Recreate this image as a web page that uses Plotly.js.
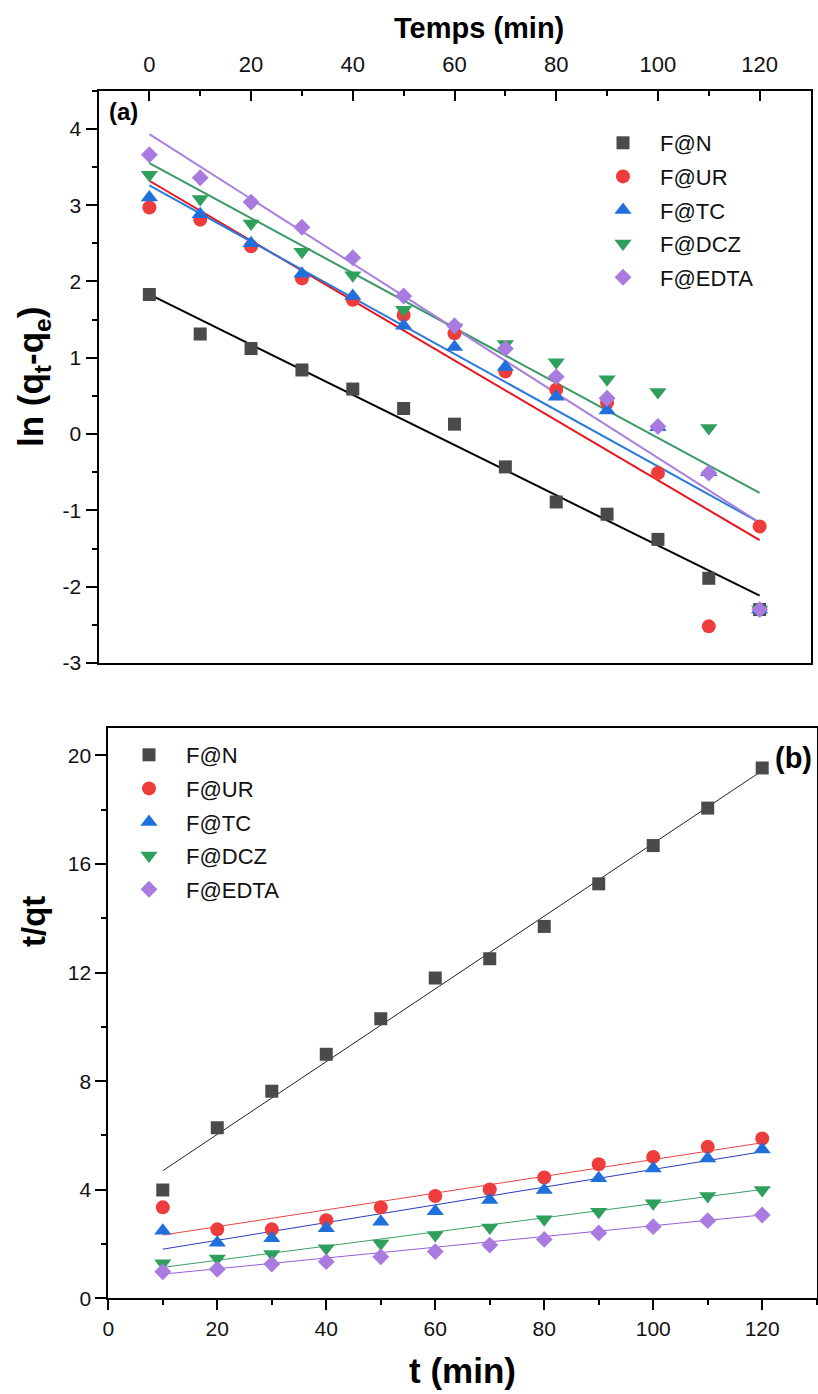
<!DOCTYPE html>
<html>
<head>
<meta charset="utf-8">
<script src="https://cdn.plot.ly/plotly-3.0.1.min.js"></script>
<style>html,body{margin:0;padding:0;background:#fff;}#chart{width:818px;height:1394px;}</style>
</head>
<body>
<div id="chart"></div>
<script>
// ---------- DATA ----------
const seriesNames = ['F@N', 'F@UR', 'F@TC', 'F@DCZ', 'F@EDTA'];

// Panel (a): ln(qt - qe) vs time
const timeA = [0, 10, 20, 30, 40, 50, 60, 70, 80, 90, 100, 110, 120];
const lnN    = [1.83, 1.31, 1.12, 0.84, 0.59, 0.335, 0.13, -0.43, -0.89, -1.05, -1.38, -1.89, -2.30];
const lnUR   = [2.97, 2.81, 2.46, 2.04, 1.76, 1.56, 1.32, 0.82, 0.58, 0.41, -0.51, -2.52, -1.21];
const lnTC   = [3.10, 2.88, 2.50, 2.10, 1.81, 1.42, 1.14, 0.88, 0.49, 0.31, 0.09, -0.50, -2.30];
const lnDCZ  = [3.40, 3.08, 2.76, 2.39, 2.08, 1.63, 1.40, 1.18, 0.94, 0.72, 0.55, 0.08, -2.30];
const lnEDTA = [3.66, 3.36, 3.04, 2.71, 2.31, 1.81, 1.42, 1.12, 0.75, 0.47, 0.10, -0.51, -2.30];
// linear fits (a): intercept and slope, drawn over the timeA span
const fitA_intercept = [1.83, 3.32, 3.26, 3.55, 3.93];
const fitA_slope     = [-0.0329, -0.03925, -0.03683, -0.0360, -0.04242];
const fitA_span      = [0, 120];
const xTicksA  = [0, 20, 40, 60, 80, 100, 120];
const yTicksA  = [-3, -2, -1, 0, 1, 2, 3, 4];
const yLabelsA = ['-3', '-2', '-1', '0', '1', '2', '3', '4'];

// Panel (b): t/qt vs t
const timeB = [10, 20, 30, 40, 50, 60, 70, 80, 90, 100, 110, 120];
const tqN    = [3.99, 6.28, 7.63, 8.99, 10.30, 11.80, 12.51, 13.70, 15.27, 16.68, 18.06, 19.54];
const tqUR   = [3.35, 2.54, 2.54, 2.88, 3.35, 3.77, 4.01, 4.45, 4.94, 5.21, 5.58, 5.89];
const tqTC   = [2.49, 2.05, 2.21, 2.58, 2.82, 3.21, 3.62, 3.99, 4.42, 4.78, 5.15, 5.48];
const tqDCZ  = [1.29, 1.47, 1.63, 1.84, 2.02, 2.33, 2.61, 2.91, 3.19, 3.50, 3.77, 3.99];
const tqEDTA = [0.98, 1.07, 1.26, 1.35, 1.53, 1.72, 1.96, 2.17, 2.41, 2.64, 2.86, 3.07];
// linear fits (b)
const fitB_intercept = [3.36, 2.021, 1.484, 0.879, 0.692];
const fitB_slope     = [0.1340, 0.03091, 0.03264, 0.02609, 0.01982];
const fitB_span      = [10, 120];
const xTicksB = [0, 20, 40, 60, 80, 100, 120];
const yTicksB = [0, 4, 8, 12, 16, 20];

// ---------- STYLE ----------
const markerColors = ['#4a4a4a', '#ee3b3b', '#1f6fdc', '#2f9f5c', '#a97be0'];
const lineColorsA  = ['#000000', '#e8141c', '#2b7bd8', '#3a9a66', '#ab80dc'];
const lineColorsB  = ['#222222', '#e84545', '#2a3cc0', '#3aa060', '#9a5fd8'];
const symbols      = ['square', 'circle', 'triangle-up', 'triangle-down', 'diamond'];
const sizes        = [13, 14, 15, 15, 13];

const dataA = [lnN, lnUR, lnTC, lnDCZ, lnEDTA];
const dataB = [tqN, tqUR, tqTC, tqDCZ, tqEDTA];

const traces = [];
for (let i = 0; i < 5; i++) {
  traces.push({
    x: fitA_span, y: fitA_span.map(t => fitA_intercept[i] + fitA_slope[i] * t),
    xaxis: 'x', yaxis: 'y', mode: 'lines', showlegend: false, hoverinfo: 'skip',
    line: {color: lineColorsA[i], width: 2}
  });
  traces.push({
    x: fitB_span, y: fitB_span.map(t => fitB_intercept[i] + fitB_slope[i] * t),
    xaxis: 'x2', yaxis: 'y2', mode: 'lines', showlegend: false, hoverinfo: 'skip',
    line: {color: lineColorsB[i], width: 1}
  });
}
for (let i = 0; i < 5; i++) {
  traces.push({
    x: timeA, y: dataA[i], xaxis: 'x', yaxis: 'y', mode: 'markers', name: seriesNames[i],
    legend: 'legend', legendgroup: 'a' + i,
    marker: {symbol: symbols[i], size: sizes[i], color: markerColors[i], line: {width: 0}}
  });
}
for (let i = 0; i < 5; i++) {
  traces.push({
    x: timeB, y: dataB[i], xaxis: 'x2', yaxis: 'y2', mode: 'markers', name: seriesNames[i],
    legend: 'legend2', legendgroup: 'b' + i,
    marker: {symbol: symbols[i], size: sizes[i], color: markerColors[i], line: {width: 0}}
  });
}

const W = 818, H = 1394;
const px = v => v / W, py = v => 1 - v / H;
const sans = 'Liberation Sans, Arial, sans-serif';

const axisCommon = {
  showline: true, linewidth: 2, linecolor: '#000', mirror: true,
  showgrid: false, zeroline: false, tickwidth: 2, tickcolor: '#000',
  tickfont: {family: sans, size: 21, color: '#111'}
};

const legendCommon = {
  bgcolor: 'rgba(0,0,0,0)', borderwidth: 0, xanchor: 'left', yanchor: 'top',
  font: {family: sans, size: 22, color: '#111'}, tracegroupgap: 2, traceorder: 'grouped',
  itemwidth: 64
};

const layout = {
  width: W, height: H,
  margin: {l: 0, r: 0, t: 0, b: 0},
  paper_bgcolor: '#fff', plot_bgcolor: '#fff',
  xaxis: Object.assign({}, axisCommon, {
    domain: [px(98.5), px(810.5)], anchor: 'y', side: 'top',
    range: [-10, 130], tickmode: 'array', tickvals: xTicksA, ticks: 'inside', ticklen: 10,
    ticklabelstandoff: 8,
    minor: {dtick: 10, tick0: 0, ticks: 'inside', ticklen: 5, tickwidth: 2, tickcolor: '#000'},
    tickfont: {family: sans, size: 22, color: '#111'}
  }),
  yaxis: Object.assign({}, axisCommon, {
    domain: [py(663), py(90.7)], anchor: 'x',
    range: [-3, 4.5], tickmode: 'array', tickvals: yTicksA, ticktext: yLabelsA,
    ticks: 'outside', ticklen: 11,
    minor: {dtick: 0.5, tick0: 0, ticks: 'outside', ticklen: 5, tickwidth: 2, tickcolor: '#000'},
    title: {text: '<b>ln (q<sub>t</sub>-q<sub>e</sub>)</b>', font: {family: sans, size: 35, color: '#000'}, standoff: 8}
  }),
  xaxis2: Object.assign({}, axisCommon, {
    domain: [px(108.3), px(816.7)], anchor: 'y2',
    range: [0, 130], tickmode: 'array', tickvals: xTicksB, ticks: 'outside', ticklen: 10,
    minor: {dtick: 10, tick0: 0, ticks: 'outside', ticklen: 5, tickwidth: 2, tickcolor: '#000'},
    title: {text: '<b>t (min)</b>', font: {family: sans, size: 35, color: '#000'}, standoff: 20}
  }),
  yaxis2: Object.assign({}, axisCommon, {
    domain: [py(1298.3), py(728.3)], anchor: 'x2',
    range: [0, 21], tickmode: 'array', tickvals: yTicksB, ticks: 'outside', ticklen: 11,
    minor: {dtick: 2, tick0: 0, ticks: 'outside', ticklen: 5, tickwidth: 2, tickcolor: '#000'}
  }),
  legend: Object.assign({}, legendCommon, {x: px(586), y: py(122)}),
  legend2: Object.assign({}, legendCommon, {x: px(112), y: py(734)}),
  annotations: [
    {text: '<b>Temps (min)</b>', xref: 'paper', yref: 'paper', x: px(479), y: py(28), showarrow: false,
     xanchor: 'center', yanchor: 'middle', font: {family: sans, size: 29, color: '#000'}},
    {text: '<b>(a)</b>', xref: 'paper', yref: 'paper', x: px(123), y: py(112), showarrow: false,
     xanchor: 'center', yanchor: 'middle', font: {family: sans, size: 24, color: '#000'}},
    {text: '<b>(b)</b>', xref: 'paper', yref: 'paper', x: px(793), y: py(758), showarrow: false,
     xanchor: 'center', yanchor: 'middle', font: {family: sans, size: 29, color: '#000'}},
    {text: '<b>t/qt</b>', xref: 'paper', yref: 'paper', x: px(33), y: py(922), showarrow: false,
     textangle: -90, xanchor: 'center', yanchor: 'middle', font: {family: sans, size: 33, color: '#000'}}
  ]
};

Plotly.newPlot('chart', traces, layout, {displayModeBar: false, staticPlot: true});
</script>
</body>
</html>
